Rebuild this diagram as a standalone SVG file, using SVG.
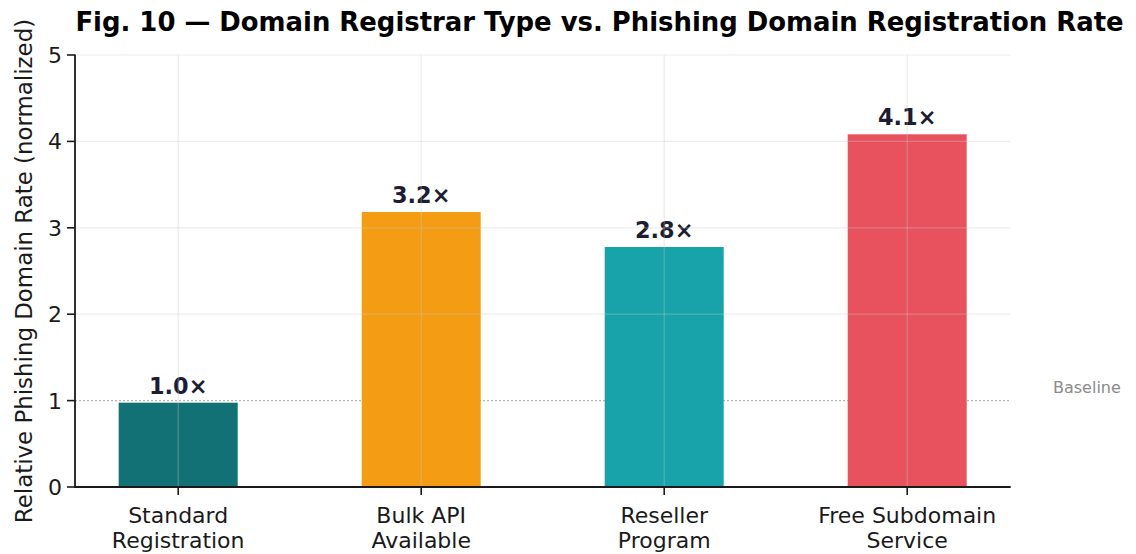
<svg xmlns="http://www.w3.org/2000/svg" width="1136" height="554" viewBox="0 0 1136 554">
<style>
  text { font-family: "DejaVu Sans", "Liberation Sans", sans-serif; }
  .title { font-size: 25.9px; font-weight: bold; fill: #000; }
  .tick { font-size: 22px; fill: #1a1a1a; }
  .ylabel { font-size: 22.9px; fill: #1a1a1a; }
  .val { font-size: 22.4px; font-weight: bold; fill: #1c1c33; }
  .note { font-size: 16px; fill: #8a8a8a; }
  .grid { stroke: #c8c8c8; stroke-opacity: 0.35; stroke-width: 1.2; fill: none; }
  .spine { stroke: #1a1a1a; stroke-width: 1.8; fill: none; }
  .tk { stroke: #1a1a1a; stroke-width: 1.6; }
</style>
<rect width="1136" height="554" fill="#ffffff"/>
<text class="title" x="599.5" y="31" text-anchor="middle">Fig. 10 — Domain Registrar Type vs. Phishing Domain Registration Rate</text>

<g id="baseline">
  <line x1="75" y1="400.6" x2="1010.5" y2="400.6" stroke="#b5b5b5" stroke-width="1.3" stroke-dasharray="2,2"/>
  <text class="note" x="1053" y="393">Baseline</text>
</g>

<g id="bars">
  <g id="bar-standard">
    <rect x="118.7" y="402.7" width="119" height="84.3" fill="#117174"/>
    <text class="val" x="178.2" y="394.3" text-anchor="middle">1.0×</text>
  </g>
  <g id="bar-bulk">
    <rect x="361.7" y="212" width="119" height="275" fill="#F39C14"/>
    <text class="val" x="421.2" y="203.3" text-anchor="middle">3.2×</text>
  </g>
  <g id="bar-reseller">
    <rect x="604.7" y="247" width="119" height="240" fill="#17A3A9"/>
    <text class="val" x="664.2" y="238.3" text-anchor="middle">2.8×</text>
  </g>
  <g id="bar-free">
    <rect x="847.7" y="134.3" width="119" height="352.7" fill="#E8525E"/>
    <text class="val" x="907.2" y="125" text-anchor="middle">4.1×</text>
  </g>
</g>

<g id="grid">
  <line class="grid" x1="75" y1="55" x2="1010.5" y2="55"/>
  <line class="grid" x1="75" y1="141.4" x2="1010.5" y2="141.4"/>
  <line class="grid" x1="75" y1="227.8" x2="1010.5" y2="227.8"/>
  <line class="grid" x1="75" y1="314.2" x2="1010.5" y2="314.2"/>
  <line class="grid" x1="178.2" y1="55" x2="178.2" y2="487"/>
  <line class="grid" x1="421.2" y1="55" x2="421.2" y2="487"/>
  <line class="grid" x1="664.2" y1="55" x2="664.2" y2="487"/>
  <line class="grid" x1="907.2" y1="55" x2="907.2" y2="487"/>
</g>

<g id="axes">
  <line class="spine" x1="75" y1="54.5" x2="75" y2="487.9"/>
  <line class="spine" x1="74.1" y1="487" x2="1010.7" y2="487"/>
  <line class="tk" x1="67" y1="55" x2="75" y2="55"/>
  <line class="tk" x1="67" y1="141.4" x2="75" y2="141.4"/>
  <line class="tk" x1="67" y1="227.8" x2="75" y2="227.8"/>
  <line class="tk" x1="67" y1="314.2" x2="75" y2="314.2"/>
  <line class="tk" x1="67" y1="400.6" x2="75" y2="400.6"/>
  <line class="tk" x1="67" y1="487" x2="75" y2="487"/>
  <line class="tk" x1="178.2" y1="487" x2="178.2" y2="495"/>
  <line class="tk" x1="421.2" y1="487" x2="421.2" y2="495"/>
  <line class="tk" x1="664.2" y1="487" x2="664.2" y2="495"/>
  <line class="tk" x1="907.2" y1="487" x2="907.2" y2="495"/>
  <text class="tick" x="62" y="63" text-anchor="end">5</text>
  <text class="tick" x="62" y="149.4" text-anchor="end">4</text>
  <text class="tick" x="62" y="235.8" text-anchor="end">3</text>
  <text class="tick" x="62" y="322.2" text-anchor="end">2</text>
  <text class="tick" x="62" y="408.6" text-anchor="end">1</text>
  <text class="tick" x="62" y="495" text-anchor="end">0</text>
  <text class="tick" text-anchor="middle"><tspan x="178.2" y="522.5">Standard</tspan><tspan x="178.2" y="547.5">Registration</tspan></text>
  <text class="tick" text-anchor="middle"><tspan x="421.2" y="522.5">Bulk API</tspan><tspan x="421.2" y="547.5">Available</tspan></text>
  <text class="tick" text-anchor="middle"><tspan x="664.2" y="522.5">Reseller</tspan><tspan x="664.2" y="547.5">Program</tspan></text>
  <text class="tick" text-anchor="middle"><tspan x="907.2" y="522.5">Free Subdomain</tspan><tspan x="907.2" y="547.5">Service</tspan></text>
  <text class="ylabel" transform="translate(31.5,271) rotate(-90)" text-anchor="middle">Relative Phishing Domain Rate (normalized)</text>
</g>
</svg>
